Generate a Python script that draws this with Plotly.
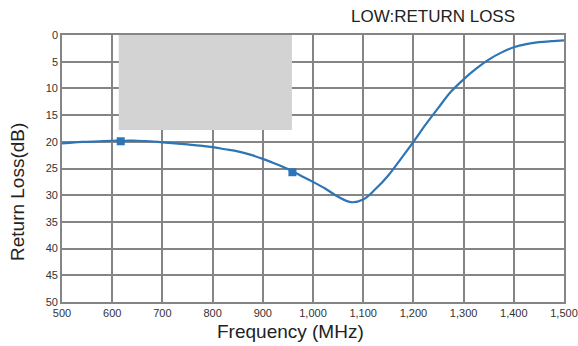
import plotly.graph_objects as go

freq = [500, 525, 550, 575, 600, 625, 650, 675, 700, 725, 750, 775, 800, 825, 850, 875, 900, 925, 950, 975,
        1000, 1025, 1050, 1075, 1100, 1125, 1150, 1175, 1200, 1225, 1250, 1275, 1300, 1325, 1350, 1375, 1400,
        1425, 1450, 1475, 1500]
rl = [20.3, 20.1, 20.0, 19.9, 19.8, 19.8, 19.8, 19.9, 20.1, 20.3, 20.5, 20.7, 21.0, 21.4, 21.8, 22.4, 23.2, 24.1,
      25.1, 26.3, 27.5, 28.8, 30.3, 31.3, 30.8, 28.8, 26.3, 23.2, 20.0, 16.7, 13.6, 10.6, 8.3, 6.3, 4.6, 3.3, 2.3,
      1.7, 1.35, 1.15, 1.0]
marker_freq = [617, 959]
marker_rl = [19.9, 25.7]
band = [613, 958]
band_top = 17.8
x_ticks = [500, 600, 700, 800, 900, 1000, 1100, 1200, 1300, 1400, 1500]
y_ticks = [0, 5, 10, 15, 20, 25, 30, 35, 40, 45, 50]

blue = "#2e75b6"
grid = "#858585"
font = "Liberation Sans, Arial, sans-serif"

L, R, T, B = 62, 564, 35, 302
def px(x):
    return (x - L) / (R - L)
def py(y):
    return (B - y) / (B - T)

fig = go.Figure()
fig.add_trace(go.Scatter(x=freq, y=rl, mode="lines", line=dict(color=blue, width=2.2, shape="spline", smoothing=1.0), hoverinfo="skip"))
fig.add_trace(go.Scatter(x=marker_freq, y=marker_rl, mode="markers", marker=dict(symbol="square", size=8, color=blue)))
fig.add_shape(type="rect", xref="x", yref="y", x0=band[0], x1=band[1], y0=0, y1=band_top,
              fillcolor="#d3d3d3", line=dict(width=0), layer="above")

fig.update_layout(
    width=578, height=346, showlegend=False,
    margin=dict(l=L, r=578 - R, t=T, b=346 - B),
    paper_bgcolor="white", plot_bgcolor="white",
    font=dict(family=font, color="#222"),
    annotations=[
        dict(text="LOW:RETURN LOSS", xref="paper", yref="paper", showarrow=False,
             x=px(433), y=py(16), xanchor="center", yanchor="middle",
             font=dict(size=17, color="#222", family=font)),
        dict(text="Frequency (MHz)", xref="paper", yref="paper", showarrow=False,
             x=px(290), y=py(331), xanchor="center", yanchor="middle",
             font=dict(size=19, color="#222", family=font)),
        dict(text="Return Loss(dB)", xref="paper", yref="paper", showarrow=False, textangle=-90,
             x=px(17.5), y=py(192.5), xanchor="center", yanchor="middle",
             font=dict(size=19, color="#222", family=font)),
    ],
)

fig.update_xaxes(range=[500, 1500], tickvals=x_ticks, tickformat=",d", showgrid=True, gridcolor=grid, gridwidth=1.6,
                 showline=True, linecolor=grid, linewidth=1.6, mirror=True, zeroline=False, ticks="",
                 automargin=False, tickfont=dict(size=11, color="#333"))
fig.update_yaxes(range=[50, 0], tickvals=y_ticks, showgrid=True, gridcolor=grid, gridwidth=1.6,
                 showline=True, linecolor=grid, linewidth=1.6, mirror=True, zeroline=False, ticks="",
                 automargin=False, tickfont=dict(size=11, color="#333"))

fig.write_html("out.html")
